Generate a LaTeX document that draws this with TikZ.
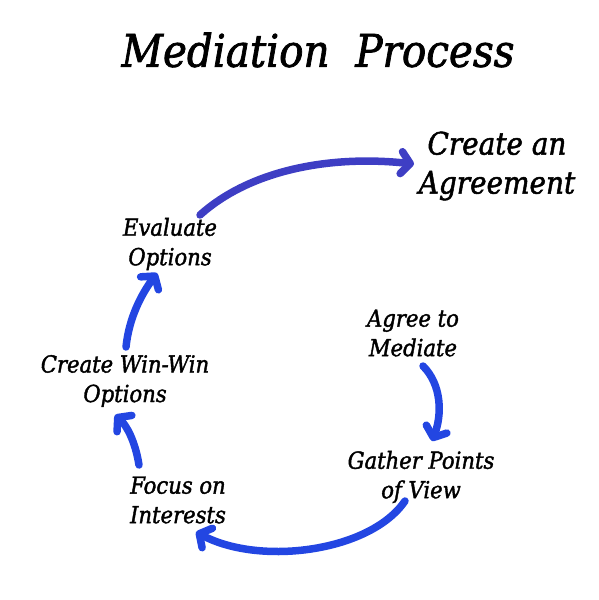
\documentclass[tikz,border=0pt]{standalone}
\usepackage{fontspec}
\newfontfamily\mfont[ItalicFeatures={FakeBold=1.6}]{DejaVu Serif Condensed}
\usetikzlibrary{arrows.meta}
\definecolor{arrpurple}{HTML}{3E3EC4}
\definecolor{arrblue}{HTML}{2346E2}
\begin{document}
\begin{tikzpicture}[x=1pt,y=-1pt,
  lbl/.style={font=\mfont\fontsize{23.5}{29.5}\selectfont\itshape, align=center, inner sep=0pt},
  flow/.style={line width=7.5pt, line cap=round, arrblue,
    -{Straight Barb[length=9pt,width=22pt,line width=7.5pt,round]}}]
\useasboundingbox (0,0) rectangle (598,600);
\node[font=\mfont\fontsize{45}{48}\selectfont\itshape, inner sep=0pt] (title) at (318,50) {Mediation\ \ Process};
\node[font=\mfont\fontsize{31}{39}\selectfont\itshape, align=center, inner sep=0pt] (agree) at (497,166) {Create an\\Agreement};
\node[lbl] (eval) at (170,244) {Evaluate\\Options};
\node[lbl] (med) at (413,333) {Agree to\\Mediate};
\node[lbl] (gather) at (421,477) {Gather Points\\of View};
\node[lbl] (focus) at (178,500) {Focus on\\Interests};
\node[lbl] (win) at (125,381) {Create Win-Win\\Options};
\coordinate (a1s) at (200,215); \coordinate (a1e) at (414,164);
\coordinate (a2s) at (423,366); \coordinate (a2e) at (432,441);
\coordinate (a3s) at (405,501); \coordinate (a3e) at (196,532);
\coordinate (a4s) at (139,465); \coordinate (a4e) at (115,415);
\coordinate (a5s) at (126,347); \coordinate (a5e) at (157,273);
\draw[flow, arrpurple] (a1s) .. controls (250,170) and (330,155) .. (a1e);
\draw[flow] (a2s) .. controls (442,385) and (442,415) .. (a2e);
\draw[flow] (a3s) .. controls (370,552) and (260,566) .. (a3e);
\draw[flow] (a4s) .. controls (135,440) and (126,425) .. (a4e);
\draw[flow] (a5s) .. controls (129,318) and (141,295) .. (a5e);
\end{tikzpicture}
\end{document}
